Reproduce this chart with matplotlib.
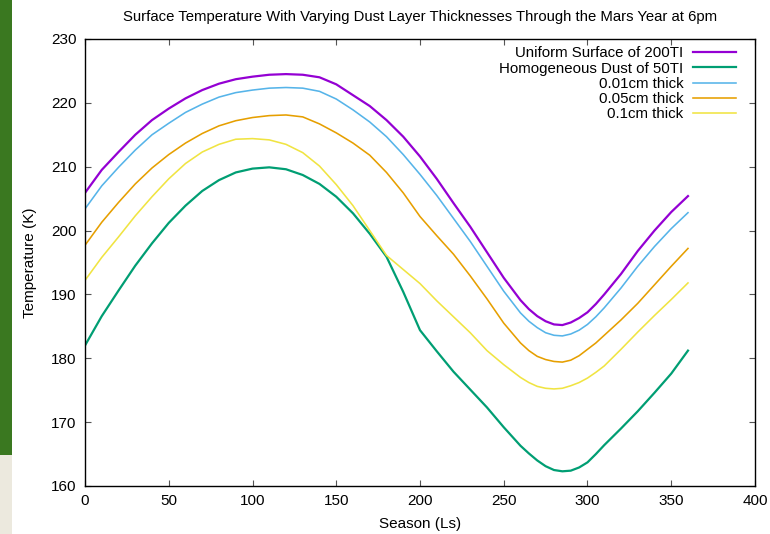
import matplotlib
matplotlib.use("Agg")
import matplotlib.pyplot as plt
from matplotlib.patches import Rectangle

plt.rcParams['font.family'] = ['Liberation Sans', 'DejaVu Sans']

# Season (Ls)
ls = [0, 10, 20, 30, 40, 50, 60, 70, 80, 90, 100, 110, 120, 130, 140, 150, 160, 170,
      180, 190, 200, 210, 220, 230, 240, 250, 260, 265, 270, 275, 280, 285, 290, 295,
      300, 305, 310, 320, 330, 340, 350, 360]

uniform_200ti = [205.9, 209.5, 212.3, 215.0, 217.3, 219.1, 220.7, 222.0, 223.0, 223.7,
                 224.1, 224.4, 224.5, 224.4, 224.0, 222.9, 221.2, 219.5, 217.3, 214.7,
                 211.6, 208.1, 204.3, 200.6, 196.6, 192.6, 189.1, 187.7, 186.6, 185.8,
                 185.3, 185.2, 185.6, 186.3, 187.2, 188.5, 190.0, 193.2, 196.8, 200.0,
                 202.9, 205.4]

dust_50ti = [182.0, 186.6, 190.6, 194.5, 198.0, 201.2, 203.9, 206.2, 207.9, 209.1,
             209.7, 209.9, 209.6, 208.7, 207.3, 205.3, 202.7, 199.5, 195.9, 190.4,
             184.4, 181.1, 177.9, 175.1, 172.3, 169.2, 166.3, 165.1, 164.0, 163.1,
             162.5, 162.3, 162.4, 162.9, 163.7, 165.0, 166.4, 169.0, 171.7, 174.6,
             177.6, 181.2]

thick_001 = [203.4, 207.0, 209.9, 212.6, 215.0, 216.8, 218.5, 219.8, 220.9, 221.6,
             222.0, 222.3, 222.4, 222.3, 221.8, 220.6, 218.9, 217.0, 214.7, 211.9,
             208.8, 205.5, 201.9, 198.3, 194.4, 190.5, 187.1, 185.8, 184.8, 184.0,
             183.6, 183.5, 183.8, 184.4, 185.3, 186.5, 187.9, 191.0, 194.4, 197.5,
             200.3, 202.8]

thick_005 = [197.7, 201.3, 204.4, 207.3, 209.8, 211.9, 213.7, 215.2, 216.4, 217.2,
             217.7, 218.0, 218.1, 217.8, 216.7, 215.3, 213.7, 211.8, 209.1, 205.9,
             202.2, 199.2, 196.3, 192.9, 189.3, 185.5, 182.4, 181.2, 180.3, 179.8,
             179.5, 179.4, 179.7, 180.4, 181.4, 182.4, 183.6, 186.0, 188.6, 191.5,
             194.4, 197.2]

thick_01 = [192.2, 195.8, 199.0, 202.3, 205.3, 208.1, 210.5, 212.3, 213.5, 214.3,
            214.4, 214.2, 213.5, 212.2, 210.1, 207.2, 203.9, 200.0, 196.1, 193.9,
            191.7, 189.0, 186.5, 184.0, 181.2, 179.0, 177.0, 176.2, 175.6, 175.3,
            175.2, 175.3, 175.7, 176.2, 176.9, 177.8, 178.8, 181.4, 184.1, 186.7,
            189.2, 191.8]

series = [
    ("Uniform Surface of 200TI", uniform_200ti, "#9400d3", 1.6),
    ("Homogeneous Dust of 50TI", dust_50ti, "#009e73", 1.6),
    ("0.01cm thick", thick_001, "#56b4e9", 1.15),
    ("0.05cm thick", thick_005, "#e69f00", 1.15),
    ("0.1cm thick", thick_01, "#f0e442", 1.15),
]

xticks = [0, 50, 100, 150, 200, 250, 300, 350, 400]
yticks = [160, 170, 180, 190, 200, 210, 220, 230]

fig = plt.figure(figsize=(7.7, 5.34), dpi=100)
fig.patch.set_facecolor("white")
# screenshot side strip
fig.patches.append(Rectangle((0, 0.148), 0.0156, 0.852, transform=fig.transFigure,
                             facecolor="#3a7820", edgecolor="none", zorder=0))
fig.patches.append(Rectangle((0, 0), 0.0156, 0.148, transform=fig.transFigure,
                             facecolor="#ece9de", edgecolor="none", zorder=0))

ax = fig.add_axes([0.1104, 0.0899, 0.8701, 0.8371])
for label, vals, color, lw in series:
    ax.plot(ls, vals, color=color, lw=lw, label=label, solid_joinstyle="round")

ax.set_xlim(0, 400)
ax.set_ylim(160, 230)
ax.set_xticks(xticks)
ax.set_yticks(yticks)
ax.tick_params(direction="in", length=4, width=0.8, color="#555555",
               top=True, right=True, labelsize=11, pad=6)
for s in ax.spines.values():
    s.set_linewidth(1.0)
    s.set_color("black")

ax.set_title("Surface Temperature With Varying Dust Layer Thicknesses Through the Mars Year at 6pm",
             fontsize=10.75, pad=13)
ax.set_xlabel("Season (Ls)", fontsize=11, labelpad=6)
ax.set_ylabel("Temperature (K)", fontsize=11, labelpad=10)

leg = ax.legend(loc="upper right", bbox_to_anchor=(0.983, 1.0), frameon=False,
                markerfirst=False, fontsize=10.8, handlelength=2.9, handletextpad=0.6,
                labelspacing=0.08, borderpad=0)

fig.savefig("out.png", dpi=100)
